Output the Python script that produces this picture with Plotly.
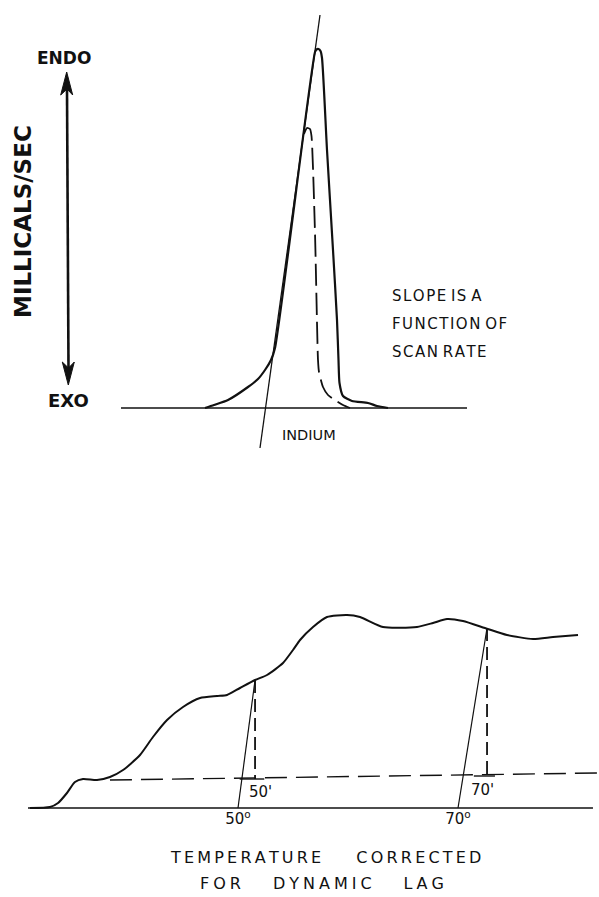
import plotly.graph_objects as go

# ---------------- Indium calibration run (upper panel) ----------------
# temperature in degC, heat flow in mcal/s (baseline = 0)
indium_temp = [150.5, 151.4, 152.8, 154.8, 155.8, 156.5, 157.1, 157.5, 161.5,
               161.65, 161.85, 162.05, 162.2, 162.7, 163.3, 163.7, 163.85,
               163.95, 164.3, 165.2, 166.8, 167.7, 168.8]
indium_flow = [0.00, 0.03, 0.08, 0.21, 0.29, 0.38, 0.48, 0.60, 3.56,
               3.585, 3.59, 3.57, 3.50, 2.58, 1.58, 0.88, 0.48,
               0.25, 0.12, 0.07, 0.05, 0.02, 0.00]

# slower scan of the same sample (dashed)
slow_temp = [160.4, 160.7, 161.0, 161.15, 161.5, 161.8, 161.9, 162.3,
             162.8, 163.5, 164.3, 165.0]
slow_flow = [2.74, 2.80, 2.79, 2.72, 1.75, 0.48, 0.36, 0.21,
             0.13, 0.08, 0.03, 0.00]

# leading-edge tangent and baseline
tangent_temp = [162.0, 156.0]
tangent_flow = [3.93, -0.40]
top_base_temp = [142.1, 176.7]
top_base_flow = [0.0, 0.0]

# ---------------- Sample run (lower panel) ----------------
sample_temp = [31.09, 32.91, 33.64, 34.45, 35.18, 35.91, 37.18, 38.36, 39.55,
               41.09, 42.27, 43.55, 45.0, 46.55, 48.09, 49.0, 50.18, 51.55,
               52.64, 54.09, 55.0, 55.64, 56.82, 58.09, 59.91, 61.09, 63.18,
               66.27, 67.73, 69.0, 70.45, 72.45, 74.45, 76.82, 78.64, 80.91]
sample_flow = [0.00, 0.01, 0.05, 0.15, 0.26, 0.29, 0.28, 0.31, 0.38,
               0.53, 0.71, 0.88, 1.01, 1.10, 1.12, 1.13, 1.20, 1.28,
               1.33, 1.45, 1.58, 1.68, 1.81, 1.91, 1.93, 1.91, 1.81,
               1.81, 1.85, 1.89, 1.87, 1.80, 1.73, 1.69, 1.71, 1.73]

low_base_temp = [30.91, 82.27]
low_base_flow = [0.0, 0.0]
ref_line_temp = [38.36, 82.64]
ref_line_flow = [0.28, 0.35]

# observed (primed) and corrected readings
observed_labels = ["50'", "70'"]
observed_temp = [51.55, 72.64]
observed_flow = [1.28, 1.80]
observed_label_temp = [52.0, 72.2]
observed_label_flow = [0.16, 0.18]
ref_level = [0.29, 0.32]
corrected_temp = [50, 70]
corrected_text = ["50<sup>o</sup>", "70<sup>o</sup>"]
tick_half = [1.4, 1.2]

BLACK = "#111111"
SANS = "DejaVu Sans"


def spaced(text, gap="\u2005", word_gap="\u2003\u2003"):
    return word_gap.join(gap.join(word) for word in text.split(" "))


fig = go.Figure()


def line(x, y, width, dash="solid", axes=("x", "y")):
    fig.add_trace(go.Scatter(x=x, y=y, mode="lines", xaxis=axes[0], yaxis=axes[1],
                             line=dict(color=BLACK, width=width, dash=dash,
                                       shape="spline", smoothing=0.6),
                             hoverinfo="skip", showlegend=False))


# upper panel
line(top_base_temp, top_base_flow, 1.5)
line(tangent_temp, tangent_flow, 1.3)
line(slow_temp, slow_flow, 1.8, dash="22px,7px")
line(indium_temp, indium_flow, 2.2)

# ENDO / EXO double arrow
line([136.7, 136.85], [3.18, 0.40], 2.6)
for xs, ys in (([136.67, 137.27, 136.7, 136.07, 136.67], [3.36, 3.13, 3.19, 3.13, 3.36]),
               ([136.83, 137.43, 136.85, 136.23, 136.83], [0.23, 0.46, 0.40, 0.46, 0.23])):
    fig.add_trace(go.Scatter(x=xs, y=ys, mode="lines", fill="toself", fillcolor=BLACK,
                             line=dict(color=BLACK, width=1), hoverinfo="skip",
                             showlegend=False))

# lower panel
B = ("x2", "y2")
line(low_base_temp, low_base_flow, 1.6, axes=B)
line(ref_line_temp, ref_line_flow, 1.4, dash="22px,9px", axes=B)
line(sample_temp, sample_flow, 2.0, axes=B)
for t_obs, q_obs, q_ref, t_cor, half in zip(observed_temp, observed_flow, ref_level,
                                             corrected_temp, tick_half):
    line([t_obs, t_obs], [q_obs, q_ref], 1.8, dash="13px,6px", axes=B)
    line([t_obs - half, t_obs + half * 0.6], [q_ref, q_ref], 1.4, axes=B)
    line([t_obs, t_cor], [q_obs, 0.0], 1.2, axes=B)

ann = []
for lab, lx, ly in zip(observed_labels, observed_label_temp, observed_label_flow):
    ann.append(dict(x=lx, y=ly, xref="x2", yref="y2", text=lab,
                    showarrow=False, font=dict(family=SANS, size=15, color=BLACK)))

bold = dict(family=SANS, color=BLACK)
ann += [
    dict(x=136.4, y=3.50, xref="x", yref="y", text="<b>ENDO</b>", showarrow=False,
         font=dict(size=17, **bold)),
    dict(x=136.8, y=0.08, xref="x", yref="y", text="<b>EXO</b>", showarrow=False,
         font=dict(size=18, **bold)),
    dict(x=132.3, y=1.86, xref="x", yref="y", text="<b>MILLICALS/SEC</b>",
         textangle=-90, showarrow=False, font=dict(size=23, **bold)),
    dict(x=160.9, y=-0.27, xref="x", yref="y", text="INDIUM",
         showarrow=False, font=dict(family=SANS, size=14.5, color=BLACK)),
    dict(x=162.55, y=-4.49, xref="x", yref="y",
         text=spaced("TEMPERATURE CORRECTED", gap="\u2009", word_gap="\u2003\u2003\u2009"),
         showarrow=False, font=dict(family=SANS, size=16, color=BLACK)),
    dict(x=162.2, y=-4.755, xref="x", yref="y",
         text=spaced("FOR DYNAMIC LAG"), showarrow=False,
         font=dict(family=SANS, size=16, color=BLACK)),
]
for i, txt in enumerate(["SLOPE IS A", "FUNCTION OF", "SCAN RATE"]):
    ann.append(dict(x=169.0, y=1.12 - 0.28 * i, xref="x", yref="y",
                    text=spaced(txt, gap="\u200a", word_gap=" "),
                    xanchor="left", showarrow=False,
                    font=dict(family=SANS, size=15, color=BLACK)))

hidden = dict(visible=False, fixedrange=True)
fig.update_layout(
    width=599, height=897, autosize=False,
    margin=dict(l=0, r=0, t=0, b=0),
    paper_bgcolor="white", plot_bgcolor="rgba(0,0,0,0)",
    xaxis=dict(domain=[0, 1], range=[130, 189.9], **hidden),
    yaxis=dict(domain=[0, 1], range=[-4.89, 4.08], **hidden),
    xaxis2=dict(domain=[0, 1], range=[50 - 238 / 11, 50 + 361 / 11], anchor="free",
                position=1 - 808 / 897, showline=False, showgrid=False, zeroline=False,
                ticks="", tickvals=corrected_temp, ticktext=corrected_text,
                tickfont=dict(family=SANS, size=15, color=BLACK),
                fixedrange=True),
    yaxis2=dict(domain=[0, 1], range=[-0.89, 8.08], anchor="x2", **hidden),
    annotations=ann,
    showlegend=False,
)

fig.write_html("out.html", config={"displayModeBar": False})
